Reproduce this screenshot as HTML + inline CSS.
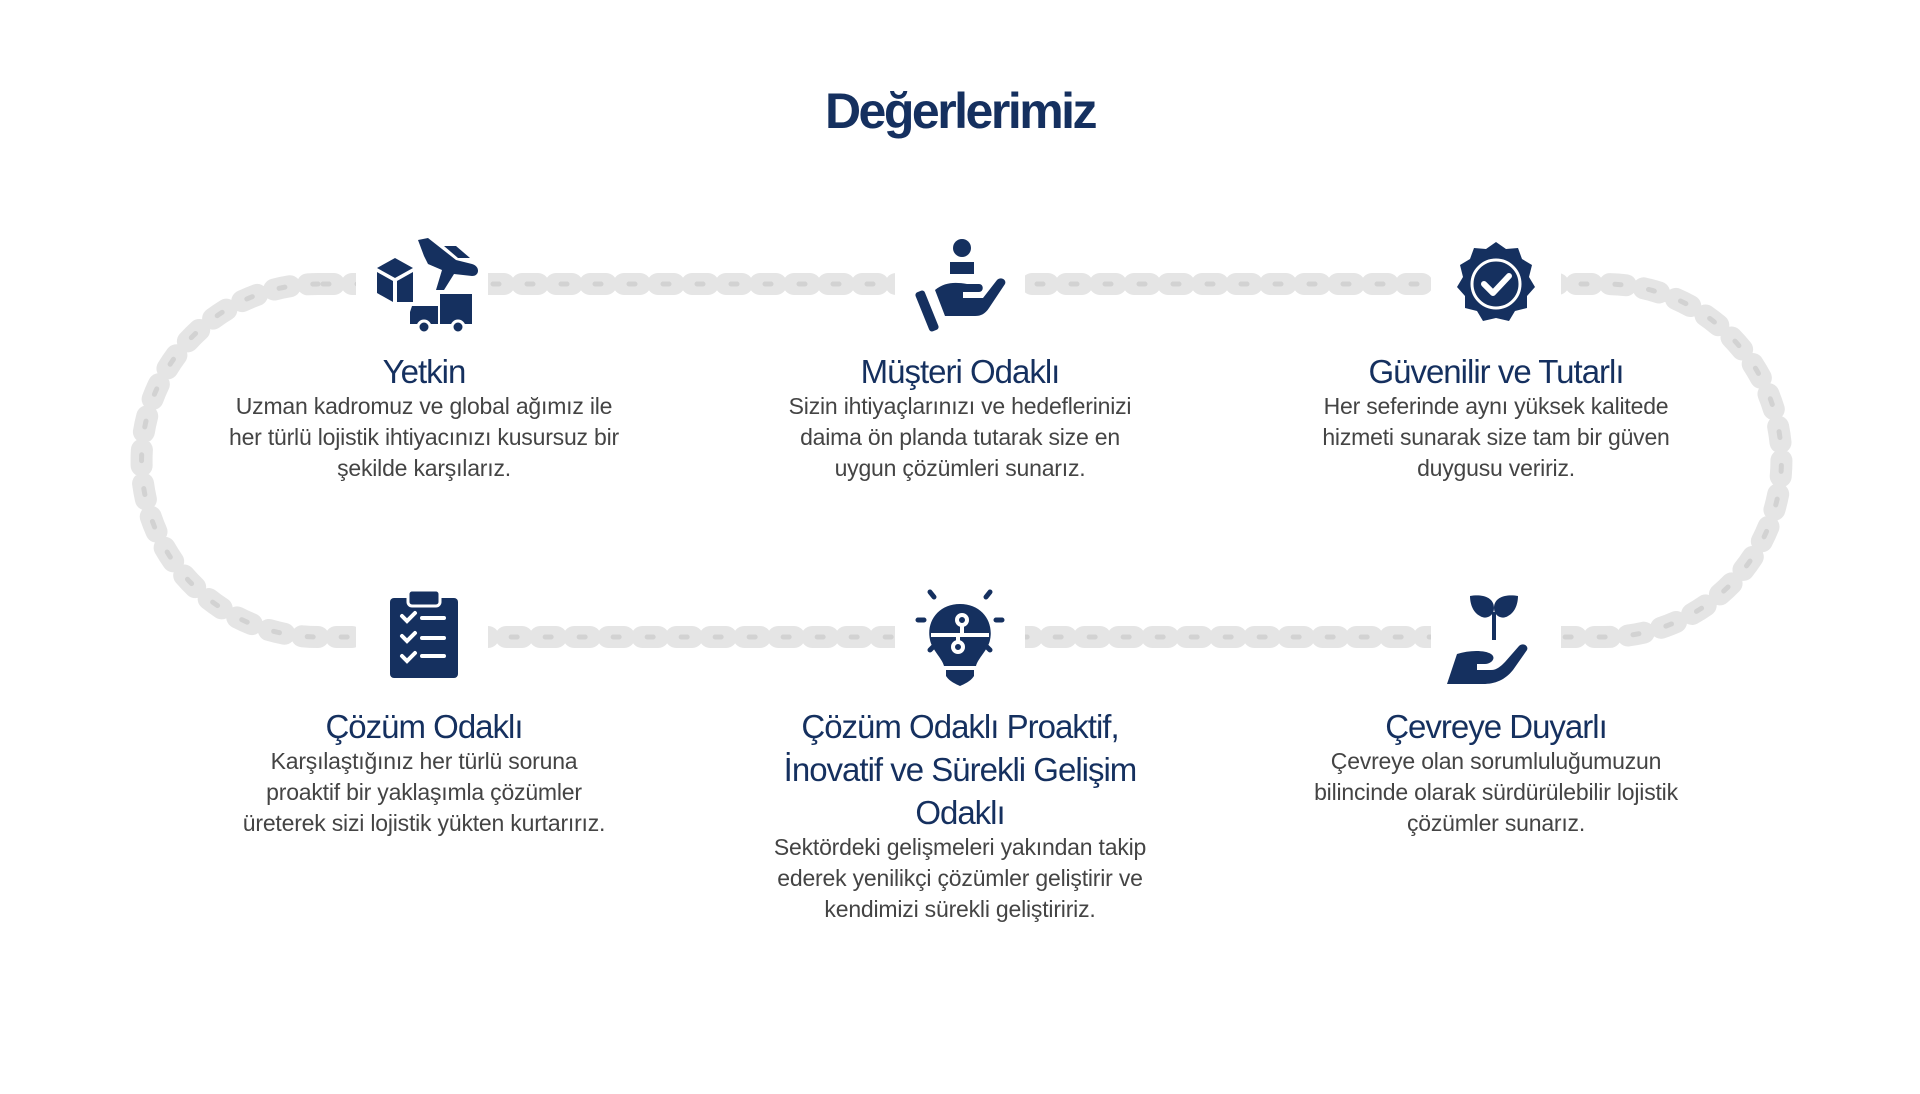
<!DOCTYPE html>
<html><head><meta charset="utf-8"><style>
html,body{margin:0;padding:0;background:#fff;}
body{width:1920px;height:1094px;position:relative;overflow:hidden;font-family:"Liberation Sans",sans-serif;}
h1{position:absolute;top:82px;left:0;width:1920px;margin:0;text-align:center;font-size:50px;font-weight:bold;color:#15305f;letter-spacing:-2.5px;}
.h{position:absolute;width:560px;text-align:center;color:#15305f;font-size:33px;line-height:43px;letter-spacing:-1px;}
.d{position:absolute;width:560px;text-align:center;color:#444;font-size:23px;line-height:31px;letter-spacing:-0.2px;}
svg{position:absolute;left:0;top:0;}
</style></head><body>
<svg width="1920" height="1094">
 <g fill="none" stroke-linecap="round">
  <path d="M318 284 H1605 A176.5 176.5 0 0 1 1605 637 H318 A176.5 176.5 0 0 1 318 284 Z" stroke="#e5e5e5" stroke-width="22" stroke-dasharray="16 18"/>
  <path d="M318 284 H1605 A176.5 176.5 0 0 1 1605 637 H318 A176.5 176.5 0 0 1 318 284 Z" stroke="#d2d2d2" stroke-width="5" stroke-dasharray="6 28" stroke-dashoffset="-5"/>
 </g>
 <g fill="#fff">
  <rect x="356" y="250" width="132" height="70"/><rect x="895" y="250" width="130" height="70"/><rect x="1431" y="250" width="130" height="70"/>
  <rect x="356" y="600" width="132" height="70"/><rect x="895" y="600" width="130" height="70"/><rect x="1431" y="600" width="130" height="70"/>
 </g>
 <g fill="#15305f">
  <path d="M418 240 l10-2 28 22 16 4 c8 2 8 12 0 12 l-18-2 -10 16 -8 0 6-20 -14-6 -4 -8z"/>
  <path d="M444 246 l12 0 14 12 -12 0z"/>
  <polygon points="377,268 395,258 413,268 395,278"/>
  <polygon points="377,272 393,281 393,302 377,293"/>
  <polygon points="397,281 413,272 413,302 397,302"/>
  <rect x="440" y="294" width="32" height="30"/><path d="M412 306 h26 v18 h-28 v-12z"/>
  <circle cx="424" cy="327" r="6" stroke="#fff" stroke-width="3"/><circle cx="458" cy="327" r="6" stroke="#fff" stroke-width="3"/>
  <circle cx="962" cy="248" r="9"/><path d="M950 262 h24 v12 h-24z"/>
  <path d="M935 290 c10-8 20-8 32-6 h12 c5 0 5 8 0 8 h-16 v6 h20 l14-18 c4-4 10 0 8 4 l-16 24 c-4 6-8 8-14 8 h-30z"/>
  <rect x="922" y="290" width="10" height="42" rx="3" transform="rotate(-22 927 311)"/>
  <path d="M1496 242 l10 7 12-1 4 11 10 6 -3 12 6 10 -8 9 0 12 -12 3 -6 10 -13-3 -13 3 -6-10 -12-3 0-12 -8-9 6-10 -3-12 10-6 4-11 12 1z"/>
  <circle cx="1496" cy="284" r="24" fill="none" stroke="#fff" stroke-width="3"/>
  <path d="M1484 284 l9 9 16-17" fill="none" stroke="#fff" stroke-width="6" stroke-linecap="round" stroke-linejoin="round"/>
  <rect x="390" y="598" width="68" height="80" rx="4"/>
  <rect x="408" y="590" width="32" height="16" rx="4" stroke="#fff" stroke-width="3"/>
  <g stroke="#fff" stroke-width="4" fill="none" stroke-linecap="round">
   <path d="M402 616 l5 5 8-8 M422 618 h22 M402 636 l5 5 8-8 M422 638 h22 M402 656 l5 5 8-8 M422 656 h22"/>
  </g>
  <path d="M960 604 c-22 0-34 18-30 36 c2 10 12 18 14 26 h32 c2-8 12-16 14-26 c4-18-8-36-30-36z"/>
  <path d="M946 670 h28 v6 c-4 6-10 8-14 10 c-4-2-10-4-14-10z"/>
  <g stroke="#fff" stroke-width="4" fill="none"><circle cx="962" cy="620" r="5"/><circle cx="958" cy="647" r="5"/><path d="M931 635 h58 M962 625 v8 M958 635 v7"/></g>
  <g stroke="#15305f" stroke-width="5" stroke-linecap="round"><path d="M918 620 h6 M996 620 h6 M930 592 l4 5 M990 592 l-4 5 M930 650 l4-4 M990 650 l-4-4"/></g>
  <path d="M1494 640 v-28" stroke="#15305f" stroke-width="4"/>
  <path d="M1470 596 c10-2 24 0 24 12 c0 8-8 12-14 8 c-8-4-10-14-10-20z"/>
  <path d="M1518 596 c-10-2-24 0-24 12 c0 8 8 12 14 8 c8-4 10-14 10-20z"/>
  <path d="M1457 654 c12-4 28-4 34 0 c6 4 0 10-6 10 h-8 v6 h14 c6 0 10-4 14-8 l14-16 c4-4 10 0 8 4 l-14 20 c-8 10-18 14-30 14 h-36z"/>
 </g>
</svg>
<h1>Değerlerimiz</h1>
<div class="h" style="left:144px;top:350px">Yetkin</div>
<div class="d" style="left:144px;top:391px">Uzman kadromuz ve global ağımız ile<br>her türlü lojistik ihtiyacınızı kusursuz bir<br>şekilde karşılarız.</div>
<div class="h" style="left:680px;top:350px">Müşteri Odaklı</div>
<div class="d" style="left:680px;top:391px">Sizin ihtiyaçlarınızı ve hedeflerinizi<br>daima ön planda tutarak size en<br>uygun çözümleri sunarız.</div>
<div class="h" style="left:1216px;top:350px">Güvenilir ve Tutarlı</div>
<div class="d" style="left:1216px;top:391px">Her seferinde aynı yüksek kalitede<br>hizmeti sunarak size tam bir güven<br>duygusu veririz.</div>
<div class="h" style="left:144px;top:705px">Çözüm Odaklı</div>
<div class="d" style="left:144px;top:746px">Karşılaştığınız her türlü soruna<br>proaktif bir yaklaşımla çözümler<br>üreterek sizi lojistik yükten kurtarırız.</div>
<div class="h" style="left:680px;top:705px">Çözüm Odaklı Proaktif,<br>İnovatif ve Sürekli Gelişim<br>Odaklı</div>
<div class="d" style="left:680px;top:832px">Sektördeki gelişmeleri yakından takip<br>ederek yenilikçi çözümler geliştirir ve<br>kendimizi sürekli geliştiririz.</div>
<div class="h" style="left:1216px;top:705px">Çevreye Duyarlı</div>
<div class="d" style="left:1216px;top:746px">Çevreye olan sorumluluğumuzun<br>bilincinde olarak sürdürülebilir lojistik<br>çözümler sunarız.</div>
</body></html>
